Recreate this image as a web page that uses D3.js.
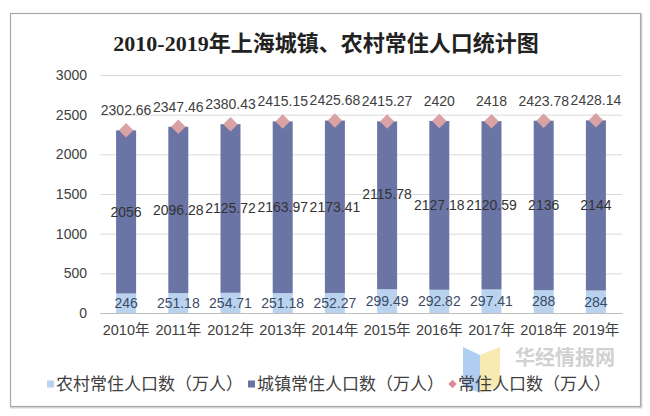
<!DOCTYPE html>
<html>
<head>
<meta charset="utf-8">
<script src="https://cdn.jsdelivr.net/npm/d3@7/dist/d3.min.js"></script>
<style>
  html, body { margin: 0; padding: 0; background: #fff; }
  svg { display: block; }
</style>
</head>
<body>
<svg id="chart" width="650" height="416"></svg>
<script>
const years = ['2010年','2011年','2012年','2013年','2014年','2015年','2016年','2017年','2018年','2019年'];
const rural = [246, 251.18, 254.71, 251.18, 252.27, 299.49, 292.82, 297.41, 288, 284];
const urban = [2056, 2096.28, 2125.72, 2163.97, 2173.41, 2115.78, 2127.18, 2120.59, 2136, 2144];
const total = [2302.66, 2347.46, 2380.43, 2415.15, 2425.68, 2415.27, 2420, 2418, 2423.78, 2428.14];
const yTicks = [0, 500, 1000, 1500, 2000, 2500, 3000];
const seriesNames = ['农村常住人口数（万人）', '城镇常住人口数（万人）', '常住人口数（万人）'];
const titleText = '2010-2019年上海城镇、农村常住人口统计图';

const C_RURAL = '#b9d3ee', C_URBAN = '#6a74a5', C_TOTAL = '#d9a2a4';
const FONT = '"Liberation Sans", Arial, "Noto Sans CJK SC", sans-serif';
const svg = d3.select('#chart');

// outer frame
svg.append('rect').attr('x', 11.5).attr('y', 14.5).attr('width', 630).attr('height', 393)
  .attr('fill', 'none').attr('stroke', '#d6d6d6').attr('stroke-width', 2);
svg.append('rect').attr('x', 10.5).attr('y', 13.5).attr('width', 630).attr('height', 393)
  .attr('fill', '#fff').attr('stroke', '#a8a8a8').attr('stroke-width', 1.2);

// title
svg.append('text').attr('x', 326).attr('y', 51).attr('text-anchor', 'middle')
  .style('font-family', '"Liberation Serif", "Noto Sans CJK SC", serif')
  .style('font-weight', 'bold').style('font-size', '22px').attr('fill', '#222')
  .text(titleText);

const x = d3.scaleBand().domain(years).range([100, 622]).paddingInner(0.617).paddingOuter(0.3085);
const y = d3.scaleLinear().domain([0, 3000]).range([313, 75]);

// grid + y axis
const gy = svg.append('g').attr('transform', 'translate(100,0)')
  .call(d3.axisLeft(y).tickValues(yTicks).tickSize(-522).tickPadding(13).tickFormat(d3.format('d')));
gy.select('.domain').remove();
gy.selectAll('.tick line').attr('stroke', '#d9d9d9');
gy.selectAll('.tick text').style('font-family', FONT).style('font-size', '14px').attr('fill', '#404040');

// watermark (behind legend)
const wm = svg.append('g').attr('opacity', 0.8);
wm.append('path').attr('d', 'M463,347 L480,355 L480,393 L463,386 Z').attr('fill', '#9cc3f0');
wm.append('path').attr('d', 'M480,355 L500,347 L500,386 L480,393 Z').attr('fill', '#f7e7a0');
wm.append('text').attr('x', 565).attr('y', 365).attr('text-anchor', 'middle')
  .style('font-family', '"Noto Sans CJK SC", sans-serif').style('font-size', '20px').style('font-weight', 'bold')
  .attr('fill', '#c6c6c6').text('华经情报网');

// bars
const g = svg.append('g');
years.forEach((yr, i) => {
  g.append('rect').attr('x', x(yr)).attr('width', x.bandwidth())
    .attr('y', y(rural[i])).attr('height', y(0) - y(rural[i])).attr('fill', C_RURAL);
  g.append('rect').attr('x', x(yr)).attr('width', x.bandwidth())
    .attr('y', y(rural[i] + urban[i])).attr('height', y(rural[i]) - y(rural[i] + urban[i])).attr('fill', C_URBAN);
});

// x axis
const gx = svg.append('g').attr('transform', 'translate(0,313)')
  .call(d3.axisBottom(x).tickSize(0).tickPadding(12));
gx.select('.domain').attr('stroke', '#bfbfbf');
gx.selectAll('.tick text').style('font-family', FONT).style('font-size', '14.5px').attr('fill', '#404040');

// diamonds
const cx = yr => x(yr) + x.bandwidth() / 2;
years.forEach((yr, i) => {
  svg.append('path').attr('d', d3.symbol().type(d3.symbolSquare).size(105)())
    .attr('transform', `translate(${cx(yr)},${y(total[i])}) rotate(45)`)
    .attr('fill', C_TOTAL);
});

// labels
const lab = svg.append('g').style('font-family', FONT).style('font-size', '14px').attr('text-anchor', 'middle');
years.forEach((yr, i) => {
  lab.append('text').attr('x', cx(yr)).attr('y', y(total[i]) - 20).attr('dy', '0.35em')
    .attr('fill', '#404040').text(total[i]);
  const raise = (i === 5) ? -11 : 0;
  lab.append('text').attr('x', cx(yr)).attr('y', y(rural[i] + urban[i] / 2) + raise).attr('dy', '0.35em')
    .attr('fill', '#333').text(urban[i]);
  lab.append('text').attr('x', cx(yr)).attr('y', y(rural[i] / 2)).attr('dy', '0.35em')
    .attr('fill', '#3b4a66').text(rural[i]);
});

// legend
const leg = svg.append('g').style('font-family', '"Noto Sans CJK SC", sans-serif').style('font-size', '17px');
let lx = 47;
const ly = 384;
const colors = [C_RURAL, C_URBAN, '#d98b9b'];
seriesNames.forEach((name, i) => {
  if (i < 2) {
    leg.append('rect').attr('x', lx).attr('y', ly - 3.5).attr('width', 7).attr('height', 7).attr('fill', colors[i]);
  } else {
    leg.append('path').attr('d', d3.symbol().type(d3.symbolSquare).size(36)())
      .attr('transform', `translate(${lx + 3.5},${ly}) rotate(45)`).attr('fill', colors[i]);
  }
  const t = leg.append('text').attr('x', lx + 9).attr('y', ly).attr('dy', '0.36em').attr('fill', '#404040').text(name);
  lx += 9 + t.node().getComputedTextLength() + 5;
});
</script>
</body>
</html>
